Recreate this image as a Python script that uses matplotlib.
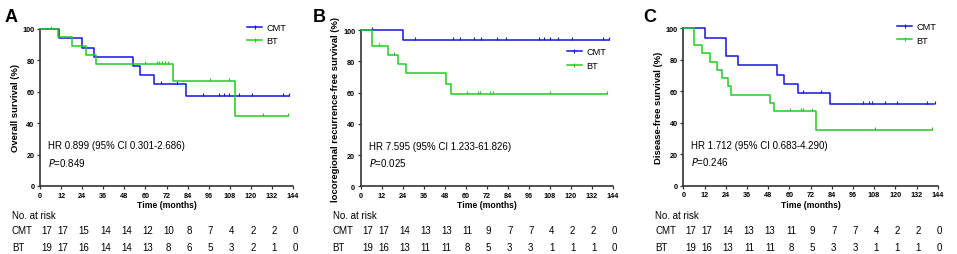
import numpy as np
import matplotlib
matplotlib.use("Agg")
import matplotlib.pyplot as plt
from matplotlib.lines import Line2D

plt.rcParams["font.family"] = ["Liberation Sans", "DejaVu Sans"]

W, H = 957, 255
BLUE = "#1414e6"
GREEN = "#22cc22"

x_ticks = np.arange(0, 145, 12)
y_ticks = [0, 20, 40, 60, 80, 100]

# Panel A - overall survival
a_cmt_t = [0, 11, 24, 31, 53, 57, 65, 83, 142]
a_cmt_s = [100, 94.1, 88.2, 82.4, 76.5, 70.6, 64.7, 57.6, 57.6]
a_cmt_c = [69, 78, 93, 102, 105, 107.5, 113, 120.5, 138.5, 142]
a_bt_t = [0, 10, 18, 26, 32, 75.5, 111, 141]
a_bt_s = [100, 94.7, 89.2, 83.5, 78.0, 66.9, 44.6, 44.6]
a_bt_c = [6.5, 60, 66.5, 68, 69.5, 71, 73, 97, 107.5, 127, 141]
a_risk_cmt = [17, 17, 15, 14, 14, 12, 10, 8, 7, 4, 2, 2, 0]
a_risk_bt = [19, 17, 16, 14, 14, 13, 8, 6, 5, 3, 2, 1, 0]

# Panel B - locoregional recurrence-free survival
b_cmt_t = [0, 24, 142]
b_cmt_s = [100, 93.8, 93.8]
b_cmt_c = [6.5, 31, 53, 57, 65, 69, 78, 83, 102, 105, 108, 113, 121, 138.5, 142]
b_bt_t = [0, 6.3, 15.6, 21.5, 26, 49, 51.5, 141]
b_bt_s = [100, 89.5, 84.2, 78.4, 72.3, 65.5, 58.9, 58.9]
b_bt_c = [10.7, 19, 60.5, 67, 68, 74, 75.5, 108, 141]
b_risk_cmt = [17, 17, 14, 13, 13, 11, 9, 7, 7, 4, 2, 2, 0]
b_risk_bt = [19, 16, 13, 11, 11, 8, 5, 3, 3, 1, 1, 1, 0]

# Panel C - disease-free survival
c_cmt_t = [0, 12, 24, 31, 53, 57, 65, 83, 142]
c_cmt_s = [100, 94.1, 82.4, 76.5, 70.6, 64.7, 58.8, 51.6, 51.6]
c_cmt_c = [68, 78, 101.5, 105, 107, 114, 121, 138, 142.5]
c_bt_t = [0, 6.2, 10.4, 15.1, 18.9, 21.7, 25.5, 26.8, 49, 51.3, 75, 141]
c_bt_s = [100, 89.5, 84.2, 78.9, 73.7, 68.4, 63.2, 57.9, 52.6, 47.4, 35.6, 35.6]
c_bt_c = [60.5, 66.5, 68, 73, 108.5, 141]
c_risk_cmt = [17, 17, 14, 13, 13, 11, 9, 7, 7, 4, 2, 2, 0]
c_risk_bt = [19, 16, 13, 11, 11, 8, 5, 3, 3, 1, 1, 1, 0]

panels = [
    dict(letter="A", lx=5, box=(40, 293, 30, 187), ylabel="Overall survival (%)",
         cmt=(a_cmt_t, a_cmt_s, a_cmt_c), bt=(a_bt_t, a_bt_s, a_bt_c),
         hr="HR 0.899 (95% CI 0.301-2.686)", p="=0.849",
         risk=(a_risk_cmt, a_risk_bt), leg=(1.0, 1.08)),
    dict(letter="B", lx=313, box=(360.7, 612.7, 31, 187.3),
         ylabel="locoregional recurrence-free survival (%)",
         cmt=(b_cmt_t, b_cmt_s, b_cmt_c), bt=(b_bt_t, b_bt_s, b_bt_c),
         hr="HR 7.595 (95% CI 1.233-61.826)", p="=0.025",
         risk=(b_risk_cmt, b_risk_bt), leg=(1.0, 0.93)),
    dict(letter="C", lx=643, box=(683.3, 937.7, 29.3, 186.7), ylabel="Disease-free survival (%)",
         cmt=(c_cmt_t, c_cmt_s, c_cmt_c), bt=(c_bt_t, c_bt_s, c_bt_c),
         hr="HR 1.712 (95% CI 0.683-4.290)", p="=0.246",
         risk=(c_risk_cmt, c_risk_bt), leg=(1.02, 1.08)),
]


def surv_at(t, s, x):
    i = np.searchsorted(t, x, side="right") - 1
    return np.asarray(s)[i]


fig = plt.figure(figsize=(W / 100, H / 100), dpi=100)

for p in panels:
    l, r, top, bot = p["box"]
    ax = fig.add_axes([l / W, 1 - bot / H, (r - l) / W, (bot - top) / H])

    for (t, s, c), col in ((p["cmt"], BLUE), (p["bt"], GREEN)):
        ax.step(t, s, where="post", color=col, lw=1.1, clip_on=False, zorder=3)
        ax.plot(c, surv_at(t, s, c), ls="none", marker=2, ms=2.5, mew=0.8,
                color=col, clip_on=False, zorder=3)

    ax.set_xlim(0, 144)
    ax.set_ylim(0, 100)
    ax.set_xticks(x_ticks)
    ax.set_yticks(y_ticks)
    for sp in ("top", "right"):
        ax.spines[sp].set_visible(False)
    for sp in ("left", "bottom"):
        ax.spines[sp].set_linewidth(1.2)
        ax.spines[sp].set_color("#333333")
    ax.tick_params(direction="out", length=2.5, width=0.9, pad=1.5,
                   labelsize=5.2, color="#333333")
    for lab in ax.get_xticklabels() + ax.get_yticklabels():
        lab.set_fontweight("bold")
    ax.set_xlabel("Time (months)", fontsize=6.2, fontweight="bold", labelpad=1)
    ax.set_ylabel(p["ylabel"], fontsize=6.8, fontweight="bold", labelpad=2)

    ax.text(4.5, 26, p["hr"], fontsize=7, va="center")
    ax.text(4.5, 15.5, "$\\it{P}$" + p["p"], fontsize=7, va="center")

    handles = [Line2D([], [], color=BLUE, lw=1.1, marker="|", ms=3, mew=0.8),
               Line2D([], [], color=GREEN, lw=1.1, marker="|", ms=3, mew=0.8)]
    ax.legend(handles, ["CMT", "BT"], loc="upper right", bbox_to_anchor=p["leg"],
              frameon=False, fontsize=6.6, handlelength=1.6, handletextpad=0.5,
              labelspacing=0.5, borderpad=0.2)

    fig.text(p["lx"] / W, 1 - 9 / H, p["letter"], fontsize=13,
             fontweight="bold", va="top", ha="left")

    lx = (l - 28) / W
    fig.text(lx, 1 - 216 / H, "No. at risk", fontsize=7, va="center")
    fig.text(lx, 1 - 231.5 / H, "CMT", fontsize=7, va="center")
    fig.text(lx, 1 - 248 / H, "BT", fontsize=7, va="center")
    for k, (xv, nc, nb) in enumerate(zip(x_ticks, *p["risk"])):
        xf = (l + (r - l) * xv / 144 + (7 if k == 0 else 2)) / W
        fig.text(xf, 1 - 231.5 / H, str(nc), fontsize=7, va="center", ha="center")
        fig.text(xf, 1 - 248 / H, str(nb), fontsize=7, va="center", ha="center")

fig.savefig("out.png", dpi=100)
